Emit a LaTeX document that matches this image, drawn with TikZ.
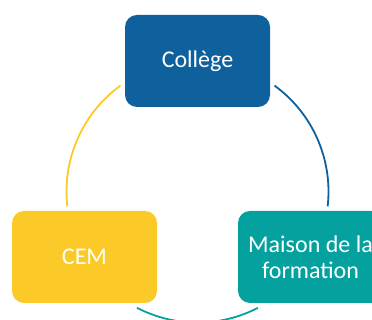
\documentclass[tikz,border=0pt]{standalone}
\usepackage{fontspec}
\setmainfont{Carlito}
\definecolor{collegeblue}{HTML}{0F619E}
\definecolor{cemyellow}{HTML}{FCCA28}
\definecolor{maisonteal}{HTML}{04A19F}
\begin{document}
\begin{tikzpicture}[x=1pt,y=1pt,
  stage/.style={rounded corners=12pt, minimum width=145pt, minimum height=92pt,
    inner sep=0pt, align=center, text=white,
    font=\fontsize{24pt}{25.6pt}\selectfont},
  ring/.style={line width=1.8pt}]
  \useasboundingbox (0,0) rectangle (372,320);
  \clip (0,0) rectangle (372,320);
  % centre of the cycle ring
  \coordinate (O) at (197.5,128.4);
  \def\rr{131}
  % ring segments between the stages
  \draw[ring, cemyellow]   ([shift={(126:\rr)}]O) arc[start angle=126, end angle=186.5, radius=\rr];
  \draw[ring, collegeblue] ([shift={(54:\rr)}]O) arc[start angle=54, end angle=-6.5, radius=\rr];
  \draw[ring, maisonteal]  ([shift={(242.5:\rr)}]O) arc[start angle=242.5, end angle=297.5, radius=\rr];
  % stages
  \node[stage, fill=collegeblue] (college) at (197.5,259) {Collège};
  \node[stage, fill=cemyellow]   (cem)     at (84.5,63)   {CEM};
  \node[stage, fill=maisonteal]  (maison)  at (310.5,63)  {Maison de la\\formation};
\end{tikzpicture}
\end{document}
